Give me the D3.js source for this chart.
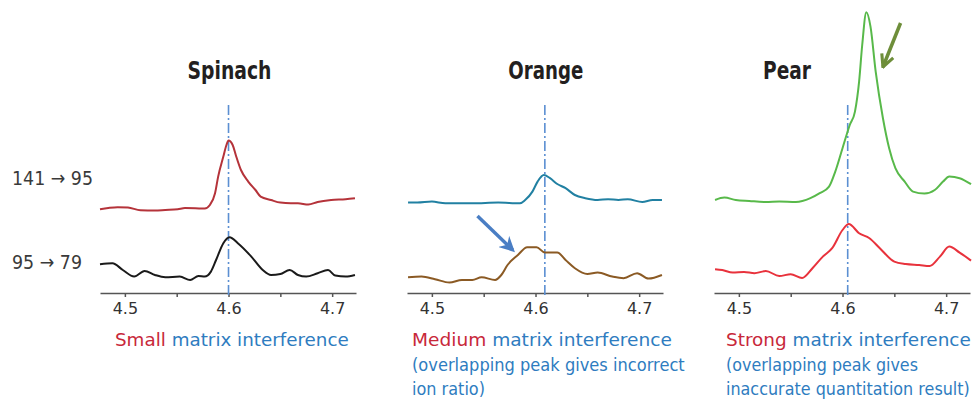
<!DOCTYPE html>
<html>
<head>
<meta charset="utf-8">
<script src="https://cdn.jsdelivr.net/npm/d3@7"></script>
<style>
  body { margin: 0; background: #fff; }
  svg { display: block; }
  .title { font-family: "DejaVu Sans", sans-serif; font-weight: bold; font-size: 25px; fill: #231f20; }
  .row { font-family: "DejaVu Sans", sans-serif; font-size: 20px; fill: #3a3a3a; }
  .cap { font-family: "DejaVu Sans", sans-serif; font-size: 18px; }
  .axis text { font-family: "DejaVu Sans", sans-serif; font-size: 16px; fill: #333; }
  .axis path, .axis line { stroke: #555; stroke-width: 1.5; }
</style>
</head>
<body>
<svg id="chart" width="978" height="400"></svg>
<script>
// Settings / data
var panelNames = ['Spinach', 'Orange', 'Pear']
var titleWidths = [84, 75, 48]
var transitions = ['141 → 95', '95 → 79']
var transWidths = [81, 70]
var tickValues = [4.5, 4.55, 4.6, 4.65, 4.7]
var labelTicks = [4.5, 4.6, 4.7]
var expectedRt = [4.6, 4.609, 4.605]   // dash-dot marker per panel

// Spinach
var spinachRtA = [4.476, 4.484, 4.493, 4.503, 4.515, 4.529, 4.539, 4.551, 4.558, 4.568, 4.577, 4.582, 4.587, 4.590, 4.595, 4.598, 4.600, 4.604, 4.607, 4.612, 4.619, 4.626, 4.631, 4.641, 4.650, 4.660, 4.667, 4.677, 4.686, 4.699, 4.713, 4.722]
var spinachA = [41.9, 42.5, 42.9, 42.7, 41.4, 41.2, 41.5, 41.9, 42.5, 42.4, 42.2, 44, 49.9, 58.2, 68.2, 74, 76.2, 74, 69, 61.5, 55.7, 51.5, 48.2, 46.5, 45.2, 44.9, 44.9, 44.2, 45.5, 46.5, 46.9, 47.4]
var spinachRtB = [4.476, 4.488, 4.498, 4.509, 4.519, 4.529, 4.539, 4.553, 4.563, 4.571, 4.577, 4.583, 4.588, 4.595, 4.601, 4.609, 4.622, 4.633, 4.641, 4.650, 4.659, 4.667, 4.675, 4.686, 4.696, 4.703, 4.713, 4.722]
var spinachB = [14.4, 14.9, 11.5, 8.2, 11, 9, 7.9, 8.2, 6.5, 8.5, 8.2, 10.7, 16.5, 24.9, 27.9, 24.9, 18.2, 11.5, 9, 9.5, 11.5, 9, 8.2, 9.9, 11.5, 8.7, 8.2, 9]

// Orange
var orangeRtA = [4.477, 4.486, 4.500, 4.513, 4.539, 4.564, 4.585, 4.590, 4.597, 4.602, 4.608, 4.614, 4.621, 4.629, 4.638, 4.648, 4.660, 4.670, 4.680, 4.689, 4.703, 4.713, 4.722]
var orangeA = [45.2, 45.2, 45.7, 44.9, 44.9, 45.2, 44.9, 46.5, 50.7, 55.7, 59, 57.4, 54.5, 52.4, 49, 47.4, 46.5, 46.9, 46.5, 46.9, 45.5, 46.5, 46.5]
var orangeRtB = [4.477, 4.490, 4.503, 4.517, 4.529, 4.539, 4.548, 4.561, 4.567, 4.573, 4.583, 4.592, 4.601, 4.609, 4.621, 4.629, 4.638, 4.650, 4.660, 4.674, 4.685, 4.698, 4.709, 4.722]
var orangeB = [7.9, 8.2, 6.9, 5.2, 6.5, 6.5, 7.9, 6.5, 9, 14, 19, 22.9, 22.9, 20.2, 20.2, 16.5, 12.4, 9.5, 10.2, 8.2, 7.4, 9.9, 7.2, 9]

// Pear
var pearRtA = [4.477, 4.486, 4.497, 4.510, 4.526, 4.539, 4.555, 4.569, 4.578, 4.587, 4.593, 4.600, 4.607, 4.612, 4.616, 4.619, 4.623, 4.627, 4.632, 4.639, 4.645, 4.651, 4.660, 4.668, 4.679, 4.689, 4.697, 4.703, 4.713, 4.724]
var pearA = [46.5, 47.7, 46.5, 46, 45.5, 45.7, 45.5, 47.4, 49.9, 53.2, 60.7, 72.4, 84, 90.7, 105.7, 124, 140.4, 133.2, 110.7, 87.4, 72.4, 62.4, 55.7, 50.7, 49.7, 51.5, 55.7, 58.2, 57.4, 54.4]
var pearRtB = [4.477, 4.484, 4.494, 4.505, 4.515, 4.526, 4.539, 4.550, 4.561, 4.571, 4.581, 4.590, 4.600, 4.606, 4.616, 4.626, 4.636, 4.650, 4.661, 4.674, 4.684, 4.694, 4.703, 4.713, 4.724]
var pearB = [11.9, 11.5, 10.2, 10.5, 9.9, 11, 8.5, 9.4, 7.5, 12.4, 18.2, 22.4, 31.5, 34.5, 29.9, 27.4, 22.4, 15.7, 14.5, 14, 13.5, 18.2, 23.2, 20.2, 16.2]

var rtList = [[spinachRtA, spinachRtB], [orangeRtA, orangeRtB], [pearRtA, pearRtB]]
var sigList = [[spinachA, spinachB], [orangeA, orangeB], [pearA, pearB]]
var traceColors = [['#b5333a', '#1a1a1a'], ['#2180a2', '#8b5a24'], ['#58b94a', '#e8323c']]

// arrows [rt1, sig1, rt2, sig2] (null = none)
var arrows = [null, [4.544, 38.5, 4.578, 21.5], [4.656, 135, 4.639, 113]]
var arrowColors = [null, '#4a7ec4', '#6e8e3a']

var capWords = ['Small', 'Medium', 'Strong']
var capLines = [
  [' matrix interference'],
  [' matrix interference', '(overlapping peak gives incorrect', 'ion ratio)'],
  [' matrix interference', '(overlapping peak gives', 'inaccurate quantitation result)']
]
var capWidths = [[234], [260, 273, 73], [245, 192, 244]]

var svg = d3.select('#chart')
var panelLeft = [100, 407, 714]
var panelW = 256
var axisY = 293

var y = d3.scaleLinear().domain([0, 140]).range([axisY, 13])

var defs = svg.append('defs')
defs.append('marker').attr('id', 'headBlue')
  .attr('viewBox', '0 0 10 10').attr('refX', 8).attr('refY', 5)
  .attr('markerWidth', 4.4).attr('markerHeight', 4.4).attr('markerUnits', 'strokeWidth')
  .attr('orient', 'auto')
  .append('path').attr('d', 'M0,0 L10,5 L0,10 L3,5 Z').attr('fill', arrowColors[1])
defs.append('marker').attr('id', 'headGreen')
  .attr('viewBox', '0 0 10 10').attr('refX', 9).attr('refY', 5)
  .attr('markerWidth', 4.4).attr('markerHeight', 4.4).attr('markerUnits', 'strokeWidth')
  .attr('orient', 'auto')
  .append('path').attr('d', 'M1,1 L9,5 L1,9').attr('fill', 'none')
  .attr('stroke', arrowColors[2]).attr('stroke-width', 2)

// squeeze a text horizontally to a target width (scale, so the bbox follows)
function fitWidth(sel, x0, y0, w) {
  var natural = sel.node().getComputedTextLength()
  sel.attr('x', 0).attr('y', 0)
    .attr('transform', 'translate(' + x0 + ',' + y0 + ') scale(' + (w / natural) + ',1)')
}

// row labels
transitions.forEach(function (t, i) {
  var tx = svg.append('text').attr('class', 'row').text(t)
  fitWidth(tx, 12, i === 0 ? 185 : 269, transWidths[i])
})

panelNames.forEach(function (name, p) {
  var x = d3.scaleLinear().domain([4.476, 4.723]).range([panelLeft[p], panelLeft[p] + panelW])
  var g = svg.append('g')

  // title
  var cx = p === 2 ? 787 : x(expectedRt[p]) + 1
  var tt = g.append('text').attr('class', 'title').text(name)
  fitWidth(tt, cx - titleWidths[p] / 2, 79, titleWidths[p])

  // axis
  g.append('g').attr('class', 'axis')
    .attr('transform', 'translate(0,' + axisY + ')')
    .call(d3.axisBottom(x).tickValues(tickValues).tickSize(4).tickSizeOuter(0).tickPadding(6)
      .tickFormat(function (d) { return labelTicks.indexOf(d) >= 0 ? d3.format('.1f')(d) : '' }))

  // dash-dot marker
  g.append('line')
    .attr('x1', x(expectedRt[p])).attr('x2', x(expectedRt[p]))
    .attr('y1', y(94)).attr('y2', axisY + 4)
    .attr('stroke', '#5b8fd2').attr('stroke-width', 1.6)
    .attr('stroke-dasharray', '10,3,2,3')

  // traces
  var line = d3.line()
    .x(function (d) { return x(d[0]) })
    .y(function (d) { return y(d[1]) })
    .curve(d3.curveMonotoneX)
  for (var k = 0; k < 2; k++) {
    var pts = d3.zip(rtList[p][k], sigList[p][k])
    g.append('path').datum(pts)
      .attr('d', line)
      .attr('fill', 'none')
      .attr('stroke', traceColors[p][k])
      .attr('stroke-width', 2)
      .attr('stroke-linejoin', 'round')
  }

  // arrow
  if (arrows[p]) {
    var a = arrows[p]
    g.append('line')
      .attr('x1', x(a[0])).attr('y1', y(a[1]))
      .attr('x2', x(a[2])).attr('y2', y(a[3]))
      .attr('stroke', arrowColors[p]).attr('stroke-width', 3.5)
      .attr('marker-end', p === 1 ? 'url(#headBlue)' : 'url(#headGreen)')
  }

  // caption
  var capX = panelLeft[p] + (p === 0 ? 15 : p === 1 ? 5 : 12)
  capLines[p].forEach(function (l, i) {
    var t = g.append('text').attr('class', 'cap')
    if (i === 0) {
      t.append('tspan').attr('fill', '#c8283a').text(capWords[p])
      t.append('tspan').attr('fill', '#2e7cc0').text(l)
    } else {
      t.attr('fill', '#2e7cc0').text(l)
    }
    fitWidth(t, capX, 346 + i * 24.5, capWidths[p][i])
  })
})
</script>
</body>
</html>
